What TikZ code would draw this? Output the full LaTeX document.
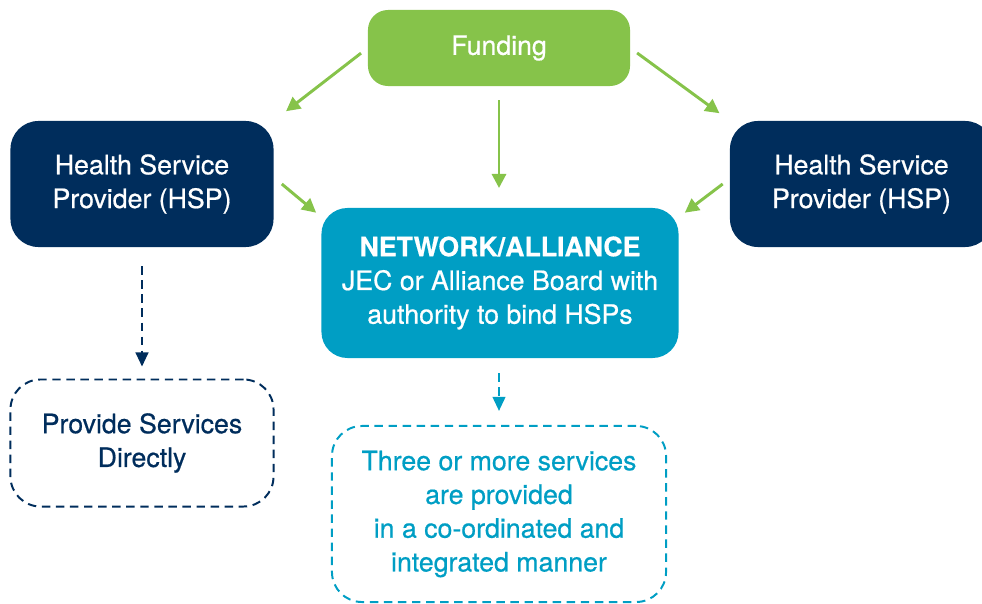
\documentclass[tikz,border=0pt]{standalone}
\usepackage{fontspec}
\setmainfont{TeX Gyre Heros}
\newfontfamily\medfont{TeX Gyre Heros}[FakeBold=0.6]
\usetikzlibrary{arrows.meta}

\definecolor{fundgreen}{HTML}{86C34A}
\definecolor{hspnavy}{HTML}{002D5C}
\definecolor{netblue}{HTML}{009EC4}

\tikzset{
  box/.style={align=center, inner sep=0pt, font=\medfont\fontsize{19}{24}\selectfont},
  fundbox/.style={box, fill=fundgreen, text=white, rounded corners=0.5cm,
    minimum width=6.55cm, minimum height=1.9cm},
  hspbox/.style={box, fill=hspnavy, text=white, rounded corners=0.7cm,
    minimum width=6.575cm, minimum height=3.15cm},
  netbox/.style={box, fill=netblue, text=white, rounded corners=0.65cm,
    minimum width=8.925cm, minimum height=3.75cm},
  provbox/.style={box, draw=hspnavy, text=hspnavy, line width=1.4pt,
    dash pattern=on 6pt off 4pt, rounded corners=0.75cm,
    minimum width=6.575cm, minimum height=3.175cm},
  threebox/.style={box, draw=netblue, text=netblue, line width=1.4pt,
    dash pattern=on 6pt off 4pt, rounded corners=0.75cm,
    minimum width=8.35cm, minimum height=4.4cm},
  garrow/.style={draw=fundgreen, line width=2.1pt, -{Triangle[length=10pt,width=10pt]}},
  navyarrow/.style={draw=hspnavy, line width=1.5pt, dash pattern=on 6pt off 4pt,
    -{Triangle[length=10pt,width=9pt]}},
  bluearrow/.style={draw=netblue, line width=1.5pt, dash pattern=on 6pt off 4pt,
    -{Triangle[length=10pt,width=9pt]}}
}

\begin{document}
\begin{tikzpicture}[x=0.025cm, y=-0.025cm]
        \useasboundingbox (0,0) rectangle (982,604);

        % top
        \node[fundbox] (fund) at (499,48) {Funding};

        % providers
        \node[hspbox] (hspl) at (142,184) {Health Service\\Provider (HSP)};
        \node[hspbox] (hspr) at (861.5,184) {Health Service\\Provider (HSP)};

        % network
        \node[netbox] (net) at (500,283) {\textbf{NETWORK/ALLIANCE}\\JEC or Alliance Board with\\authority to bind HSPs};

        % outcomes
        \node[provbox] (prov) at (142,443) {Provide Services\\Directly};
        \node[threebox] (three) at (499,514) {Three or more services\\are provided\\in a co-ordinated and\\integrated manner};

        % funding arrows
        \draw[garrow, shorten <=6pt, shorten >=11pt] (fund.west) -- (hspl.north east);
        \draw[garrow, shorten <=6pt, shorten >=9pt] (fund.east) -- (hspr.north west);
        \draw[garrow, shorten <=10pt, shorten >=14pt] (fund.south) -- (fund.south |- net.north);
        \draw[garrow] ([shift={(8,0)}]hspl.east) -- ([shift={(-5,5)}]net.north west);
        \draw[garrow] ([shift={(-7,0)}]hspr.west) -- ([shift={(6,5)}]net.north east);

        % dashed arrows
        \draw[navyarrow, shorten <=13.5pt, shorten >=8.5pt] (hspl.south) -- (prov.north);
        \draw[bluearrow, shorten <=10.5pt, shorten >=10pt] (net.south -| three.north) -- (three.north);

      \end{tikzpicture}
\end{document}
